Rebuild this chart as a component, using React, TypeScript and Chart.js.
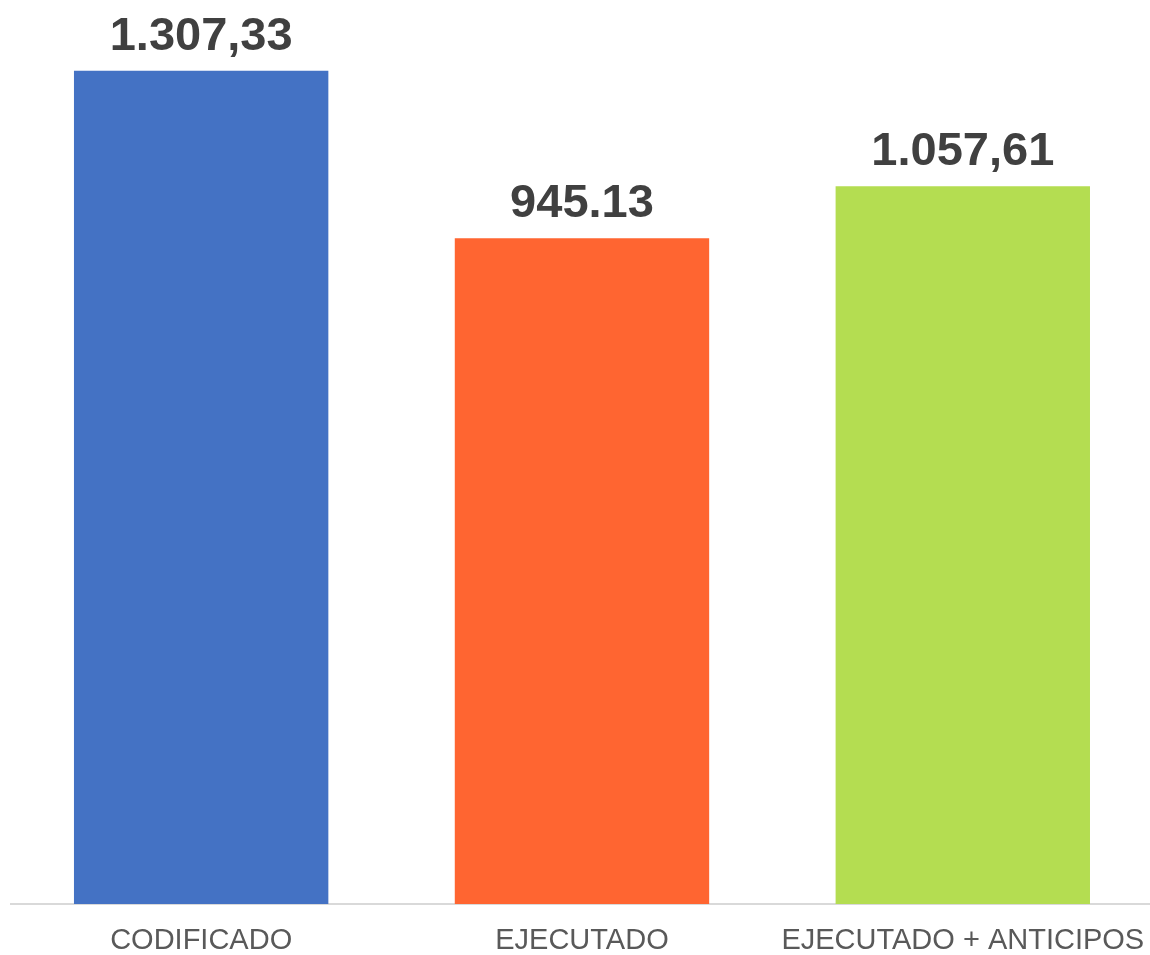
import React, { useEffect, useRef } from "react";
import { Chart, registerables } from "chart.js";

Chart.register(...registerables);

const categories = ["CODIFICADO", "EJECUTADO", "EJECUTADO + ANTICIPOS"];
const values = [1307.33, 945.13, 1057.61];
const valueLabels = ["1.307,33", "945.13", "1.057,61"];
const barColors = ["#4472C4", "#FF6531", "#B4DD51"];
const axisMin = -494.1;
const axisMax = 1460.1;

const valueLabelPlugin = {
  id: "valueLabels",
  afterDatasetsDraw(chart: any) {
    const ctx = chart.ctx;
    const meta = chart.getDatasetMeta(0);
    ctx.save();
    ctx.font = "bold 47px 'Liberation Sans', Arial, sans-serif";
    ctx.fillStyle = "#404040";
    ctx.textAlign = "center";
    ctx.textBaseline = "alphabetic";
    meta.data.forEach((el: any, i: number) => {
      ctx.fillText(valueLabels[i], el.x, el.y - 21);
    });
    ctx.restore();
  },
};

export default function App() {
  const ref = useRef<HTMLCanvasElement | null>(null);
  useEffect(() => {
    if (!ref.current) return;
    const chart = new Chart(ref.current, {
      type: "bar",
      data: {
        labels: categories,
        datasets: [
          {
            data: values,
            backgroundColor: barColors,
            base: axisMin,
            categoryPercentage: 1,
            barPercentage: 0.668,
          } as any,
        ],
      },
      options: {
        animation: false,
        responsive: true,
        maintainAspectRatio: false,
        layout: { padding: { left: 10.75, right: 10.75, top: 0, bottom: 0 } },
        plugins: {
          legend: { display: false },
          tooltip: { enabled: false },
        },
        scales: {
          y: { display: false, min: axisMin, max: axisMax },
          x: {
            grid: { display: false, drawTicks: false },
            border: { display: true, color: "#D9D9D9", width: 2 },
            ticks: {
              color: "#595959",
              padding: 20,
              font: { family: "'Liberation Sans', Arial, sans-serif", size: 29 },
            },
            afterFit: (axis: any) => {
              axis.height = 51;
            },
          },
        },
      },
      plugins: [valueLabelPlugin],
    });
    return () => chart.destroy();
  }, []);
  return (
    <div style={{ position: "fixed", left: 0, top: 0, width: 1150, height: 955, overflow: "hidden", background: "#fff" }}>
      <div style={{ position: "absolute", left: 0, top: 0, width: 1166, height: 955 }}>
        <canvas ref={ref} />
      </div>
    </div>
  );
}
